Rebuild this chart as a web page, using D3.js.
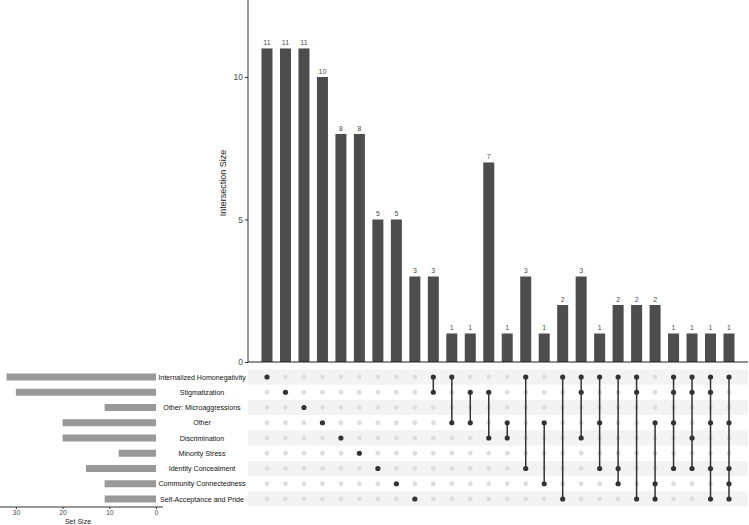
<!DOCTYPE html>
<html>
<head>
<meta charset="utf-8">
<script src="https://cdn.jsdelivr.net/npm/d3@7"></script>
<style>
  body { margin: 0; background: #fff; }
  text { font-family: "Liberation Sans", Arial, sans-serif; }
</style>
</head>
<body>
<div id="chart"></div>
<script>
// sets, top to bottom in the matrix
const setNames = [
  'Internalized Homonegativity', 'Stigmatization', 'Other: Microaggressions',
  'Other', 'Discrimination', 'Minority Stress', 'Identity Concealment',
  'Community Connectedness', 'Self-Acceptance and Pride'
];
const setSizes = [32, 30, 11, 20, 20, 8, 15, 11, 11];

// intersections, left to right: member set indices and sizes
const interMembers = [
  [0], [1], [2], [3], [4], [5], [6], [7], [8],
  [0, 1], [0, 3], [1, 3], [1, 4], [3, 4], [0, 6], [3, 7], [0, 8],
  [0, 1, 4], [0, 3, 6], [0, 6, 7], [0, 1, 8], [3, 7, 8],
  [0, 1, 3, 6], [0, 1, 4, 6], [0, 1, 3, 6, 8], [0, 3, 6, 7, 8]
];
const interSizes = [11, 11, 11, 10, 8, 8, 5, 5, 3, 3, 1, 1, 7, 1, 3, 1, 2, 3, 1, 2, 2, 2, 1, 1, 1, 1];
const yTicks = [0, 5, 10];
const setTicks = [30, 20, 10, 0];

const W = 749, H = 525;
const svg = d3.select('#chart').append('svg').attr('width', W).attr('height', H);

const idx = d3.range(interSizes.length);
let x = d3.scalePoint().domain(idx).range([267, 729]);

// top: intersection size bars
let y = d3.scaleLinear().domain([0, 12.7]).range([362, 0]);
let barW = 11;

svg.append('g').selectAll('rect').data(idx).join('rect')
  .attr('x', i => x(i) - barW / 2)
  .attr('y', i => y(interSizes[i]))
  .attr('width', barW)
  .attr('height', i => y(0) - y(interSizes[i]))
  .attr('fill', '#4d4d4d');

svg.append('g').selectAll('text').data(idx).join('text')
  .attr('x', i => x(i))
  .attr('y', i => y(interSizes[i]) - 3)
  .attr('text-anchor', 'middle')
  .attr('font-size', 7)
  .attr('fill', '#4d4d4d')
  .text(i => interSizes[i]);

let yAxis = svg.append('g').attr('transform', 'translate(248,0)')
  .call(d3.axisLeft(y).tickValues(yTicks).tickSize(3).tickPadding(2));
yAxis.select('.domain').attr('d', 'M0,0V362').attr('stroke', '#333');
yAxis.selectAll('.tick line').attr('stroke', '#333');
yAxis.selectAll('.tick text').attr('font-size', 8.5).attr('fill', '#4d4d4d')
  .attr('font-family', '"Liberation Sans", Arial, sans-serif');

svg.append('line').attr('x1', 248).attr('x2', 748).attr('y1', 362).attr('y2', 362)
  .attr('stroke', '#222').attr('stroke-width', 1.2);

svg.append('text')
  .attr('transform', 'translate(226,183) rotate(-90)')
  .attr('text-anchor', 'middle')
  .attr('font-size', 9)
  .attr('fill', '#222')
  .text('Intersection Size');

// matrix
let rowY = d3.scalePoint().domain(d3.range(setNames.length)).range([377, 499]);
let rowH = 15.25;

svg.append('g').selectAll('rect').data(d3.range(setNames.length).filter(r => r % 2 === 0)).join('rect')
  .attr('x', 248).attr('width', 500)
  .attr('y', r => rowY(r) - rowH / 2).attr('height', rowH)
  .attr('fill', '#f3f3f3');

let cells = [];
idx.forEach(i => setNames.forEach((s, r) => cells.push({i, r, on: interMembers[i].includes(r)})));

svg.append('g').selectAll('circle').data(cells.filter(c => !c.on)).join('circle')
  .attr('cx', c => x(c.i)).attr('cy', c => rowY(c.r)).attr('r', 2.4)
  .attr('fill', '#dedede');

svg.append('g').selectAll('line').data(idx.filter(i => interMembers[i].length > 1)).join('line')
  .attr('x1', i => x(i)).attr('x2', i => x(i))
  .attr('y1', i => rowY(d3.min(interMembers[i])))
  .attr('y2', i => rowY(d3.max(interMembers[i])))
  .attr('stroke', '#333').attr('stroke-width', 1.5);

svg.append('g').selectAll('circle').data(cells.filter(c => c.on)).join('circle')
  .attr('cx', c => x(c.i)).attr('cy', c => rowY(c.r)).attr('r', 2.6)
  .attr('fill', '#333');

// set labels
svg.append('g').selectAll('text').data(setNames).join('text')
  .attr('x', 202)
  .attr('y', (d, r) => rowY(r) + 2.6)
  .attr('text-anchor', 'middle')
  .attr('font-size', 7.1)
  .attr('fill', '#111')
  .text(d => d);

// left: set size bars
let xs = d3.scaleLinear().domain([33.4, -1.5]).range([0, 163]);
let setBarH = 7;

svg.append('g').selectAll('rect').data(setSizes).join('rect')
  .attr('x', d => xs(d))
  .attr('y', (d, r) => rowY(r) - setBarH / 2)
  .attr('width', d => xs(0) - xs(d))
  .attr('height', setBarH)
  .attr('fill', '#999');

let sAxis = svg.append('g').attr('transform', 'translate(0,507)')
  .call(d3.axisBottom(xs).tickValues(setTicks).tickSize(2).tickPadding(1.5));
sAxis.select('.domain').attr('d', 'M0,0H163').attr('stroke', '#333');
sAxis.selectAll('.tick line').attr('stroke', '#333');
sAxis.selectAll('.tick text').attr('font-size', 7).attr('fill', '#4d4d4d')
  .attr('font-family', '"Liberation Sans", Arial, sans-serif');

svg.append('text')
  .attr('x', 78).attr('y', 524)
  .attr('text-anchor', 'middle')
  .attr('font-size', 7)
  .attr('fill', '#222')
  .text('Set Size');
</script>
</body>
</html>
